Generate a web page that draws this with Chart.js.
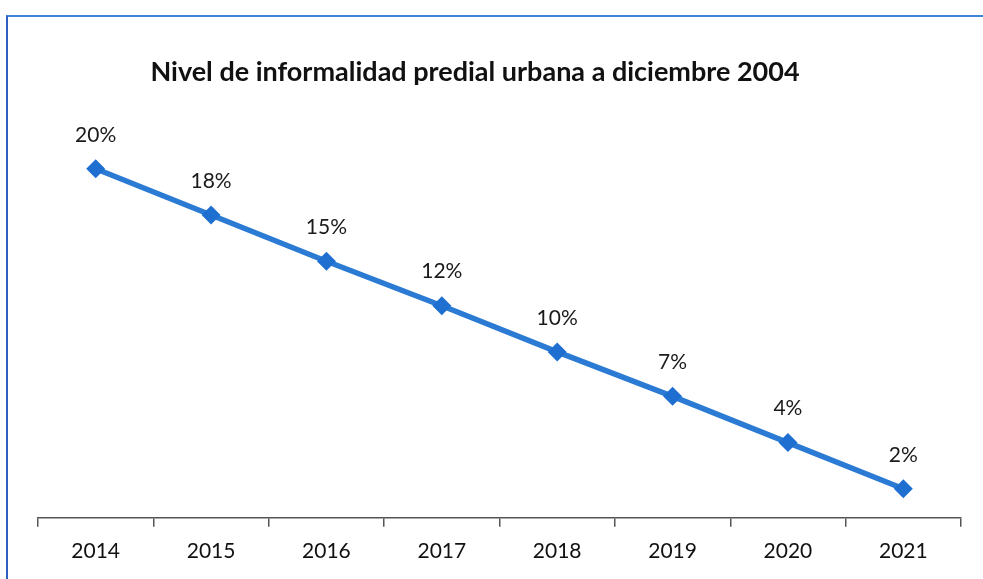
<!DOCTYPE html>
<html>
<head>
<meta charset="utf-8">
<script src="https://cdn.jsdelivr.net/npm/chart.js@4/dist/chart.umd.min.js"></script>
<style>
   html, body { margin: 0; padding: 0; background: #fff; }
   #wrap { position: relative; width: 983px; height: 579px; }
   #frame {
      position: absolute; left: 6px; top: 15px; width: 975px; height: 570px;
      border-top: 2px solid #3f86d6; border-left: 2px solid #2d5fc0;
   }
   canvas { position: absolute; left: 0; top: 0; }
</style>
</head>
<body>
<div id="wrap">
   <div id="frame"></div>
   <canvas id="chart" width="983" height="579"></canvas>
</div>
<script>
'use strict';

const years = ['2014', '2015', '2016', '2017', '2018', '2019', '2020', '2021'];
// positions (points are evenly spaced)
const values = [20, 17.4, 14.8, 12.3, 9.7, 7.2, 4.6, 2.0];
// labels as printed on the picture
const labels = ['20%', '18%', '15%', '12%', '10%', '7%', '4%', '2%'];
const title = 'Nivel de informalidad predial urbana a diciembre 2004';

const FONT = 'Lato, "Open Sans", sans-serif';

//Draw the title and the value labels
const textPlugin = {
   id: 'texts',
   afterDatasetsDraw(chart) {
      const ctx = chart.ctx;
      ctx.save();
      ctx.fillStyle = '#111';
      ctx.textAlign = 'center';
      ctx.textBaseline = 'middle';
      ctx.font = 'bold 27px ' + FONT;
      ctx.fillText(title, 475, 72);

      ctx.font = '21px ' + FONT;
      ctx.fillStyle = '#1a1a1a';
      chart.getDatasetMeta(0).data.forEach((pt, i) => {
         ctx.fillText(labels[i], pt.x, pt.y - 34);
      });
      ctx.restore();
   }
};

new Chart(document.getElementById('chart'), {
   type: 'line',
   data: {
      labels: years,
      datasets: [{
         data: values,
         borderColor: '#2b7bd4',
         borderWidth: 5.5,
         backgroundColor: '#1f6fd0',
         pointStyle: 'rectRot',
         pointRadius: 9.5,
         pointBorderWidth: 0,
         tension: 0
      }]
   },
   options: {
      responsive: false,
      animation: false,
      layout: { padding: { left: 38, right: 22, top: 100, bottom: 3 } },
      plugins: { legend: { display: false }, tooltip: { enabled: false } },
      scales: {
         y: { display: false, min: 0.37, max: 23.87 },
         x: {
            offset: true,
            border: { color: '#555', width: 1.5 },
            grid: {
               offset: true, drawOnChartArea: false, tickLength: 9,
               color: '#555', lineWidth: 1.5
            },
            ticks: { color: '#111', font: { family: FONT, size: 21 }, padding: 12 }
         }
      }
   },
   plugins: [textPlugin]
});
</script>
</body>
</html>
